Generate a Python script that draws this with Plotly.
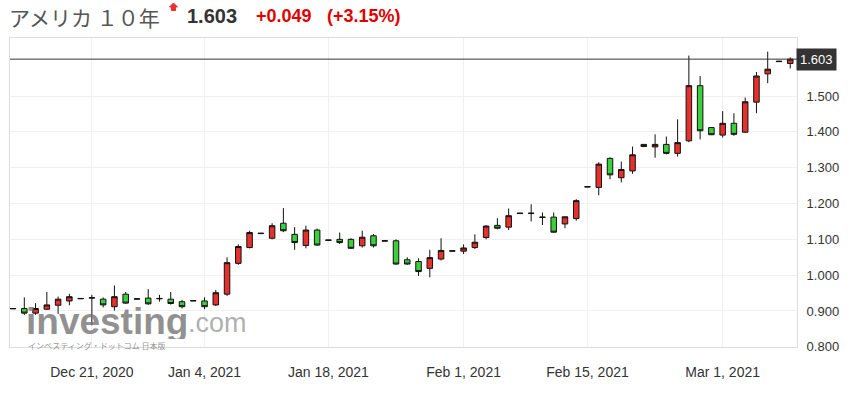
import plotly.graph_objects as go

# ---------------- data ----------------
dates = [
    "2020-12-13", "2020-12-14", "2020-12-15", "2020-12-16", "2020-12-17", "2020-12-18",
    "2020-12-20", "2020-12-21", "2020-12-22", "2020-12-23", "2020-12-24",
    "2020-12-27", "2020-12-28", "2020-12-29", "2020-12-30", "2020-12-31",
    "2021-01-03", "2021-01-04", "2021-01-05", "2021-01-06", "2021-01-07", "2021-01-08",
    "2021-01-10", "2021-01-11", "2021-01-12", "2021-01-13", "2021-01-14", "2021-01-15",
    "2021-01-18", "2021-01-19", "2021-01-20", "2021-01-21", "2021-01-22",
    "2021-01-24", "2021-01-25", "2021-01-26", "2021-01-27", "2021-01-28", "2021-01-29",
    "2021-01-31", "2021-02-01", "2021-02-02", "2021-02-03", "2021-02-04", "2021-02-05",
    "2021-02-07", "2021-02-08", "2021-02-09", "2021-02-10", "2021-02-11", "2021-02-12",
    "2021-02-15", "2021-02-16", "2021-02-17", "2021-02-18", "2021-02-19",
    "2021-02-21", "2021-02-22", "2021-02-23", "2021-02-24", "2021-02-25", "2021-02-26",
    "2021-02-28", "2021-03-01", "2021-03-02", "2021-03-03", "2021-03-04", "2021-03-05",
    "2021-03-07", "2021-03-08",
]
opens = [
    0.906, 0.907, 0.894, 0.905, 0.916, 0.928,
    0.934, 0.936, 0.933, 0.912, 0.947,
    0.933, 0.936, 0.934, 0.933, 0.926,
    0.928, 0.928, 0.917, 0.947, 1.033, 1.077,
    1.116, 1.103, 1.145, 1.114, 1.083, 1.126,
    1.097, 1.100, 1.100, 1.082, 1.110,
    1.095, 1.096, 1.043, 1.038, 1.019, 1.045,
    1.067, 1.067, 1.077, 1.105, 1.139, 1.134,
    1.172, 1.172, 1.161, 1.162, 1.143, 1.158,
    1.246, 1.245, 1.326, 1.272, 1.291,
    1.365, 1.358, 1.365, 1.340, 1.375, 1.529,
    1.412, 1.391, 1.424, 1.399, 1.483, 1.562,
    1.596, 1.591,
]
highs = [
    0.907, 0.938, 0.922, 0.953, 0.940, 0.948,
    0.935, 0.945, 0.938, 0.971, 0.953,
    0.934, 0.961, 0.945, 0.953, 0.931,
    0.929, 0.938, 0.959, 1.050, 1.086, 1.124,
    1.117, 1.145, 1.187, 1.134, 1.138, 1.130,
    1.098, 1.119, 1.103, 1.124, 1.115,
    1.096, 1.100, 1.050, 1.047, 1.071, 1.103,
    1.068, 1.086, 1.114, 1.140, 1.159, 1.186,
    1.173, 1.198, 1.175, 1.175, 1.163, 1.212,
    1.247, 1.315, 1.329, 1.317, 1.359,
    1.366, 1.393, 1.387, 1.435, 1.613, 1.556,
    1.413, 1.458, 1.452, 1.496, 1.567, 1.624,
    1.597, 1.608,
]
lows = [
    0.906, 0.889, 0.889, 0.903, 0.892, 0.916,
    0.934, 0.860, 0.910, 0.901, 0.920,
    0.933, 0.917, 0.926, 0.918, 0.907,
    0.928, 0.905, 0.914, 0.942, 1.029, 1.075,
    1.116, 1.100, 1.120, 1.071, 1.075, 1.082,
    1.097, 1.087, 1.073, 1.077, 1.077,
    1.095, 1.029, 1.029, 0.998, 0.994, 1.041,
    1.067, 1.059, 1.073, 1.100, 1.128, 1.126,
    1.172, 1.150, 1.140, 1.118, 1.131, 1.152,
    1.246, 1.223, 1.268, 1.259, 1.283,
    1.358, 1.328, 1.337, 1.331, 1.371, 1.379,
    1.391, 1.384, 1.389, 1.397, 1.452, 1.536,
    1.596, 1.577,
]
closes = [
    0.907, 0.894, 0.907, 0.917, 0.933, 0.940,
    0.935, 0.937, 0.917, 0.940, 0.922,
    0.934, 0.920, 0.935, 0.921, 0.912,
    0.929, 0.912, 0.951, 1.035, 1.080, 1.119,
    1.117, 1.138, 1.124, 1.091, 1.126, 1.084,
    1.098, 1.091, 1.075, 1.106, 1.082,
    1.096, 1.031, 1.031, 1.010, 1.049, 1.069,
    1.068, 1.076, 1.092, 1.137, 1.131, 1.166,
    1.173, 1.173, 1.162, 1.120, 1.163, 1.208,
    1.247, 1.310, 1.280, 1.295, 1.336,
    1.359, 1.365, 1.340, 1.370, 1.529, 1.403,
    1.392, 1.424, 1.393, 1.484, 1.556, 1.575,
    1.597, 1.603,
]

tick_dates = ["2020-12-21", "2021-01-04", "2021-01-18", "2021-02-01", "2021-02-15", "2021-03-01"]
tick_labels = ["Dec 21, 2020", "Jan 4, 2021", "Jan 18, 2021", "Feb 1, 2021", "Feb 15, 2021", "Mar 1, 2021"]
y_ticks = [0.8, 0.9, 1.0, 1.1, 1.2, 1.3, 1.4, 1.5]

instrument_name = "アメリカ １０年"
last_price = 1.603
change_text = "+0.049"
pct_text = "(+3.15%)"

# ---------------- layout geometry (window pixels; body margin removed below) ----------------
W, H = 865, 394
L, R, T, B = 10, 797, 38, 347


def px(x):
    return (x - L) / (R - L)


def py(y):
    return (B - y) / (B - T)


fig = go.Figure()
fig.add_trace(go.Candlestick(
    x=dates, open=opens, high=highs, low=lows, close=closes,
    increasing=dict(line=dict(color="#111111", width=1), fillcolor="#e5302c"),
    decreasing=dict(line=dict(color="#111111", width=1), fillcolor="#3ccf3c"),
    whiskerwidth=0,
    hoverinfo="skip",
    showlegend=False,
))

AX_FONT = dict(family="Liberation Sans, Arial, sans-serif", size=13, color="#333333")

fig.update_layout(
    width=W, height=H,
    margin=dict(l=L, r=W - R, t=T, b=H - B, pad=0, autoexpand=False),
    paper_bgcolor="white", plot_bgcolor="white",
    showlegend=False,
    xaxis=dict(
        type="category",
        categoryorder="array", categoryarray=dates,
        range=[-0.27, 69.6],
        rangeslider=dict(visible=False),
        tickmode="array", tickvals=tick_dates, ticktext=tick_labels,
        showgrid=True, gridcolor="#f0f0f0", gridwidth=1,
        showline=True, linecolor="#dddddd", linewidth=1, mirror=True,
        ticks="", tickfont=dict(family="Liberation Sans, Arial, sans-serif", size=14, color="#333333"),
        ticklabelstandoff=12,
        zeroline=False,
        fixedrange=True,
    ),
    yaxis=dict(
        side="right",
        range=[0.7995, 1.662],
        tickmode="array", tickvals=y_ticks,
        tickformat=".3f",
        showgrid=True, gridcolor="#f0f0f0", gridwidth=1,
        showline=True, linecolor="#dddddd", linewidth=1, mirror=True,
        ticks="", tickfont=AX_FONT,
        ticklabelstandoff=6,
        zeroline=False,
        fixedrange=True,
    ),
)

# current price line + label
fig.add_shape(type="line", xref="paper", yref="y", x0=0, x1=1,
              y0=last_price, y1=last_price, line=dict(color="#333333", width=1))
fig.add_annotation(xref="paper", yref="y", x=1, y=last_price, xanchor="left", yanchor="middle",
                   text=f"{last_price:.3f}", showarrow=False, bgcolor="#333333",
                   font=dict(family="Liberation Sans, Arial, sans-serif", size=13, color="white"),
                   borderpad=3, xshift=-1)

# header texts
fig.add_annotation(xref="paper", yref="paper", x=px(7), y=py(17), xanchor="left", yanchor="middle",
                   text=instrument_name, showarrow=False,
                   font=dict(family="Noto Sans CJK JP", size=21, color="#555555"))
fig.add_annotation(xref="paper", yref="paper", x=px(185), y=py(16), xanchor="left", yanchor="middle",
                   text=f"<b>{last_price:.3f}</b>", showarrow=False,
                   font=dict(family="Liberation Sans, Arial, sans-serif", size=20, color="#333333"))
fig.add_annotation(xref="paper", yref="paper", x=px(254), y=py(16), xanchor="left", yanchor="middle",
                   text=f"<b>{change_text}</b>", showarrow=False,
                   font=dict(family="Liberation Sans, Arial, sans-serif", size=18, color="#e00000"))
fig.add_annotation(xref="paper", yref="paper", x=px(325), y=py(16), xanchor="left", yanchor="middle",
                   text=f"<b>{pct_text}</b>", showarrow=False,
                   font=dict(family="Liberation Sans, Arial, sans-serif", size=18, color="#e00000"))

# small red up arrow
pts = [(173.5, 3), (177.5, 7), (175.5, 7), (175.5, 10.5), (171.5, 10.5), (171.5, 7), (169.5, 7)]
path = "M " + " L ".join(f"{px(a)},{py(b)}" for a, b in pts) + " Z"
fig.add_shape(type="path", xref="paper", yref="paper", path=path,
              fillcolor="#e83030", line=dict(color="#e83030", width=1))

# watermark
fig.add_annotation(xref="paper", yref="paper", x=px(24), y=py(321), xanchor="left", yanchor="middle",
                   text="<b>investing</b>", showarrow=False, height=36,
                   font=dict(family="Liberation Sans, Arial, sans-serif", size=37, color="rgba(115,115,115,0.78)"))
fig.add_annotation(xref="paper", yref="paper", x=px(186), y=py(323), xanchor="left", yanchor="middle",
                   text=".com", showarrow=False, height=28,
                   font=dict(family="Liberation Sans, Arial, sans-serif", size=27, color="rgba(140,140,140,0.7)"))
fig.add_annotation(xref="paper", yref="paper", x=px(26), y=py(345), xanchor="left", yanchor="middle",
                   text="インベスティング・ドットコム 日本版", showarrow=False, height=9,
                   font=dict(family="Noto Sans CJK JP", size=8, color="rgba(120,120,120,0.8)"))

fig.write_html(
    "out.html",
    config={"displayModeBar": False},
    post_script="document.body.style.margin='0';document.body.style.overflow='hidden';",
)
